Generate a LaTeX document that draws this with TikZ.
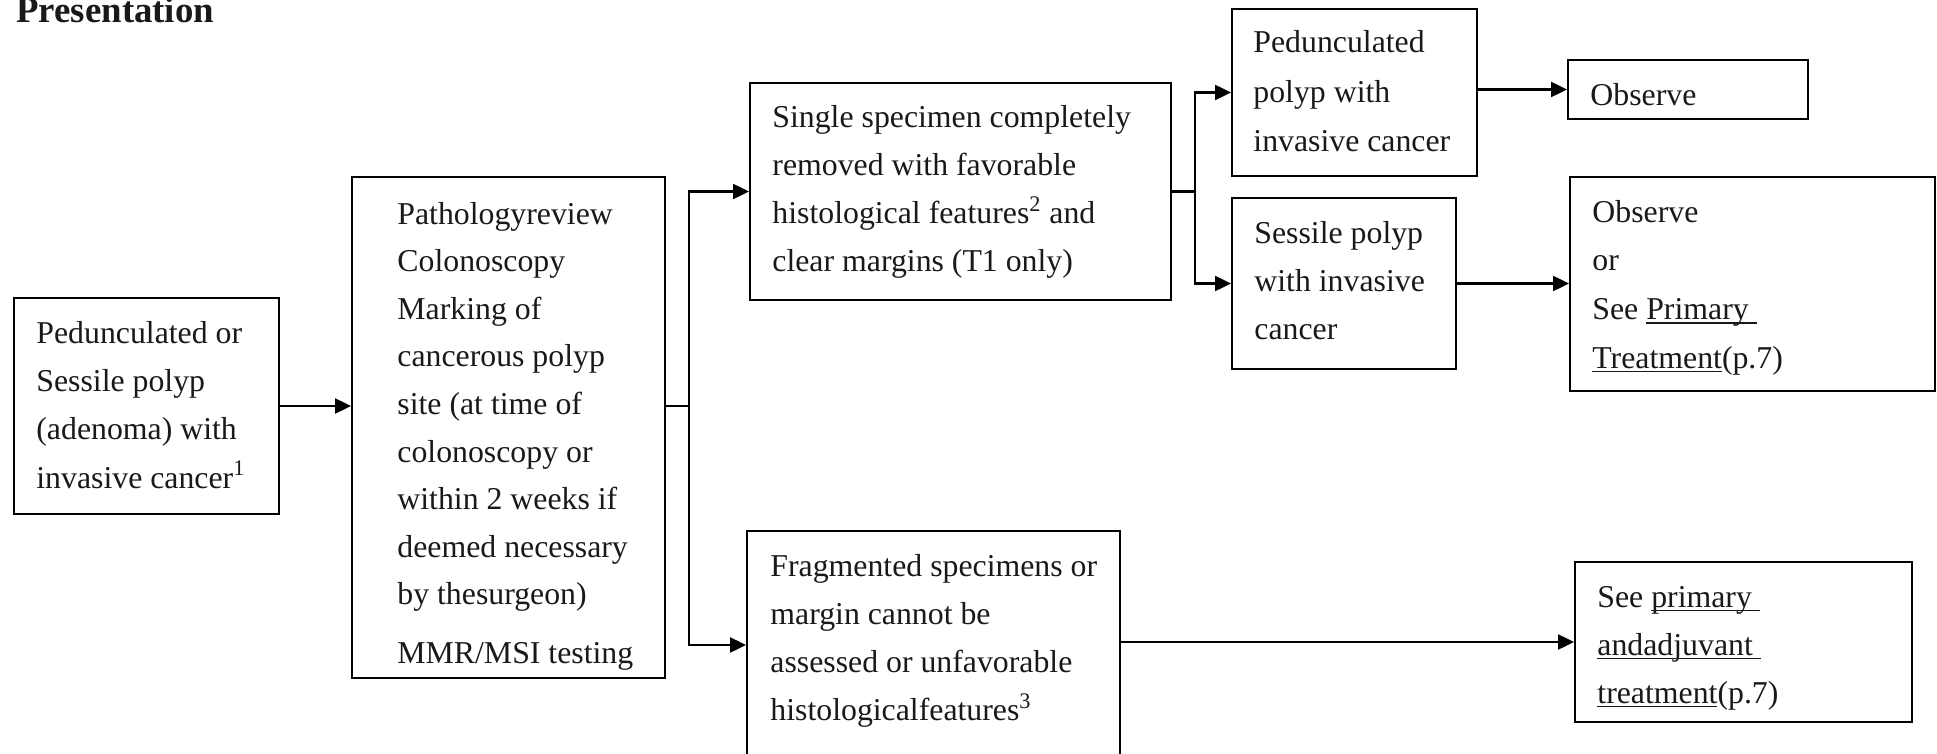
\documentclass[tikz,border=0pt]{standalone}
\usepackage{fontspec}
\setmainfont{Liberation Serif}
\usetikzlibrary{arrows.meta,fit}
\newbox\myulbox
\newcommand\myul[1]{\setbox\myulbox\hbox{#1}\rlap{\rule[-2.2pt]{\wd\myulbox}{0.8pt}}\box\myulbox}
\begin{document}
\begin{tikzpicture}[x=0.5pt,y=-0.5pt,
  box/.style={draw, line width=1pt, inner sep=0pt},
  txt/.style={anchor=base west, inner sep=0pt, align=left, font=\fontsize{15.9}{24}\selectfont, text=black!90},
  arr/.style={line width=1.2pt, -{Triangle[length=8pt,width=7.5pt]}},
  ln/.style={line width=1.2pt}]
\useasboundingbox (0,0) rectangle (1937,754);
% title
\node[anchor=base west, inner sep=0pt, text=black!90, font=\bfseries\fontsize{18.4}{22}\selectfont] (title) at (16,22.7) {Presentation};
% boxes
\node[box, fit={(14,298) (279,514)}] (b1) {};
\node[box, fit={(352,177) (665,678)}] (b2) {};
\node[box, fit={(750,83) (1171,300)}] (b3) {};
\node[box, fit={(747,531) (1120,759)}] (b5) {};
\node[box, fit={(1232,9) (1477,176)}] (b4a) {};
\node[box, fit={(1232,198) (1456,369)}] (b4b) {};
\node[box, fit={(1568,60) (1808,119)}] (obs) {};
\node[box, fit={(1570,177) (1935,391)}] (b6) {};
\node[box, fit={(1575,562) (1912,722)}] (b7) {};
% texts (anchored at the baseline of their last line)
\node[txt, font=\fontsize{15.9}{24.15}\selectfont] (t1) at (36,488) {Pedunculated or\\Sessile polyp\\(adenoma) with\\invasive cancer\textsuperscript{1}};
\node[txt, font=\fontsize{15.9}{23.8}\selectfont] (t2) at (397,663) {Pathologyreview\\Colonoscopy\\Marking of\\cancerous polyp\\site (at time of\\colonoscopy or\\within 2 weeks if\\deemed necessary\\by thesurgeon)\\[5.3pt]MMR/MSI testing};
\node[txt] (t3) at (772,271.6) {Single specimen completely\\removed with favorable\\histological features\textsuperscript{2} and\\clear margins (T1 only)};
\node[txt] (t5) at (770,720.7) {Fragmented specimens or\\margin cannot be\\assessed or unfavorable\\histologicalfeatures\textsuperscript{3}};
\node[txt, font=\fontsize{15.9}{24.6}\selectfont] (t4a) at (1253,151.4) {Pedunculated\\polyp with\\invasive cancer};
\node[txt] (t4b) at (1254,339) {Sessile polyp\\with invasive\\cancer};
\node[txt] (tobs) at (1590,105.8) {Observe};
\node[txt, font=\fontsize{15.9}{24.3}\selectfont] (t6) at (1592,368) {Observe\\or\\See \myul{Primary\ }\\\myul{Treatment}(p.7)};
\node[txt] (t7) at (1597,703) {See \myul{primary\ }\\\myul{andadjuvant\ }\\\myul{treatment}(p.7)};
% connectors
\coordinate (j1) at (689,406);
\coordinate (j2) at (1195,191.5);
\draw[arr] (b1.east) -- (b1.east -| b2.west);
\draw[ln] (b1.east -| b2.east) -- (j1);
\draw[arr] (j1) |- (b3.west);
\draw[arr] (j1) |- (b5.west);
\draw[ln] (b3.east) -- (j2);
\draw[arr] (j2) |- (b4a.west);
\draw[arr] (j2) |- (b4b.west);
\draw[arr] (b4a.east |- obs.west) -- (obs.west);
\draw[arr] (b4b.east) -- (b4b.east -| b6.west);
\draw[arr] (b5.east |- b7.west) -- (b7.west);
\end{tikzpicture}
\end{document}
